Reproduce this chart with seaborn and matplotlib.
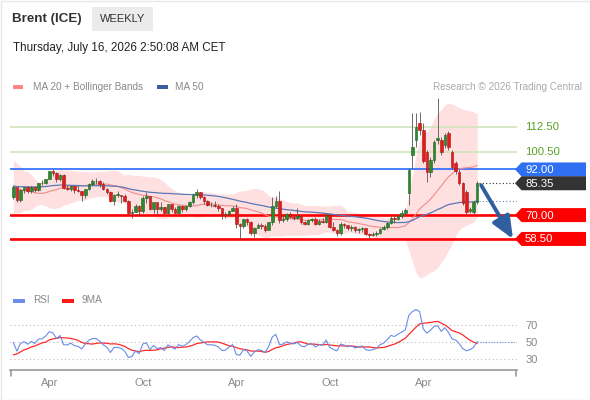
import numpy as np
import pandas as pd
import matplotlib
matplotlib.use("Agg")
import matplotlib.pyplot as plt
import seaborn as sns
from matplotlib.patches import Polygon, Rectangle

# weekly Brent candles, first week 2024-01-26, last week 2026-07-17
closes_before = [90.6, 93.9, 93.3, 95.3, 84.6, 90.9, 92.2, 90.5, 84.9, 81.4,
                 80.6, 80.6, 78.9, 75.8, 76.6, 79.1, 77.0, 78.8, 78.3, 78.6]
closes = [83.5, 77.3, 82.2, 83.5, 81.6, 83.6, 82.1, 85.3, 85.4, 87.5,
          91.2, 90.5, 87.3, 89.5, 83.0, 82.8, 84.0, 82.1, 81.6, 79.6,
          82.6, 85.2, 86.4, 86.5, 85.0, 82.6, 81.1, 76.8, 79.7, 79.7,
          79.0, 76.9, 71.1, 71.6, 74.5, 72.0, 78.1, 79.0, 73.1, 76.1,
          73.1, 73.9, 71.0, 75.2, 72.9, 71.1, 74.5, 72.9, 74.2, 76.5,
          79.8, 81.3, 78.5, 76.8, 74.7, 74.7, 74.4, 73.2, 70.4, 70.6,
          72.2, 73.6, 65.6, 64.8, 68.0, 66.9, 61.3, 63.9, 65.4, 64.8,
          62.8, 66.5, 74.2, 77.0, 67.8, 68.3, 70.4, 69.3, 68.4, 69.7,
          66.6, 65.9, 67.7, 68.1, 65.5, 67.0, 66.7, 70.1, 64.5, 62.7,
          61.3, 65.9, 65.1, 63.6, 64.4, 62.6, 63.2, 63.8, 61.1, 60.5,
          60.9, 61.5, 63.3, 64.1, 66.0, 68.5, 68.0, 69.5, 70.8, 72.3,
          91.8, 103.0, 112.5, 111.0, 96.0, 91.0, 96.5, 105.3, 107.0, 100.5,
          108.6, 102.9, 93.2, 91.5, 85.5, 76.0, 71.5, 73.0, 76.3, 85.35]
highs = [84.0, 83.7, 82.6, 83.7, 84.0, 84.0, 84.2, 85.5, 87.0, 87.6,
         91.3, 92.2, 91.0, 90.0, 89.8, 84.3, 84.2, 84.0, 84.5, 81.7,
         82.8, 85.6, 87.2, 87.9, 86.8, 86.0, 83.0, 81.8, 80.0, 81.6,
         79.8, 80.3, 77.5, 73.0, 75.3, 75.1, 79.1, 81.2, 78.0, 76.5,
         76.5, 76.2, 74.0, 75.3, 75.5, 73.7, 74.9, 74.8, 74.9, 76.9,
         80.7, 82.6, 81.0, 79.3, 77.4, 76.3, 76.9, 75.3, 73.2, 71.7,
         72.5, 74.4, 75.3, 66.0, 68.3, 68.7, 67.2, 64.2, 66.0, 66.3,
         65.7, 66.8, 78.5, 79.0, 81.4, 70.0, 70.8, 71.5, 70.0, 73.5,
         70.2, 67.0, 68.1, 68.8, 69.2, 68.0, 68.6, 71.0, 70.6, 66.6,
         63.2, 66.8, 66.3, 65.4, 65.2, 64.8, 63.6, 64.3, 64.0, 61.5,
         62.0, 62.3, 63.8, 65.4, 66.6, 69.6, 70.0, 70.4, 72.3, 73.4,
         92.8, 119.2, 119.0, 119.5, 114.5, 101.5, 98.0, 106.0, 126.5, 107.5,
         109.5, 110.5, 101.5, 96.0, 92.0, 86.0, 82.0, 74.0, 77.0, 86.5]
lows = [77.8, 76.2, 76.4, 80.8, 80.5, 80.7, 81.3, 81.8, 84.3, 84.8,
        87.2, 89.0, 86.1, 86.4, 82.4, 82.0, 81.4, 80.6, 81.0, 76.8,
        78.2, 82.3, 84.5, 85.0, 83.5, 82.0, 80.2, 76.3, 75.1, 78.8,
        75.9, 76.4, 70.6, 68.7, 71.6, 70.0, 70.9, 75.9, 72.5, 71.0,
        70.7, 72.0, 70.5, 70.4, 71.3, 70.8, 71.0, 71.4, 71.9, 73.8,
        75.4, 78.1, 77.8, 75.3, 74.2, 74.0, 73.7, 72.0, 68.3, 68.4,
        70.0, 71.9, 64.0, 58.4, 64.0, 65.3, 60.2, 59.3, 63.7, 63.4,
        62.0, 63.3, 65.0, 73.5, 66.3, 66.5, 67.3, 68.5, 67.7, 68.3,
        65.8, 65.0, 65.2, 66.7, 65.1, 65.0, 66.0, 66.4, 63.8, 62.1,
        60.1, 60.3, 63.9, 62.9, 62.5, 61.9, 61.5, 62.0, 60.6, 58.9,
        59.8, 59.9, 60.8, 62.7, 63.5, 65.5, 66.4, 67.5, 68.6, 70.2,
        74.8, 92.0, 103.0, 108.5, 95.0, 86.0, 88.5, 95.0, 104.5, 99.0,
        102.5, 101.5, 92.0, 90.0, 84.5, 75.0, 70.5, 70.8, 70.5, 75.5]
# opens differ from previous close only where the spike weeks gapped
gap_opens = {110: 80.5, 111: 99.0, 112: 106.0, 113: 114.4, 114: 111.0, 115: 100.5,
             116: 91.0, 117: 96.5, 118: 106.0, 119: 106.2, 120: 103.8, 121: 109.6,
             122: 100.5, 123: 95.1, 124: 90.8, 125: 85.5, 126: 81.2, 127: 72.0,
             128: 71.5, 129: 76.3}

levels_green = [112.5, 100.5]
level_blue = 92.0
levels_red = [70.0, 58.5]
rsi_levels = [30, 50, 70]
first_week = "2024-01-26"

# ---- indicators
all_close = pd.Series(closes_before + closes, dtype=float)
n_before = len(closes_before)
ma20 = all_close.rolling(20, min_periods=1).mean()
sd20 = all_close.rolling(20, min_periods=1).std(ddof=0)
ma50 = all_close.rolling(50, min_periods=1).mean()
delta = all_close.diff()
gain = delta.clip(lower=0).ewm(alpha=1 / 14, adjust=True).mean()
loss = (-delta.clip(upper=0)).ewm(alpha=1 / 14, adjust=True).mean()
rsi = 100 - 100 / (1 + gain / loss)
rsi_ma = rsi.rolling(9, min_periods=1).mean()

n = len(closes)
df = pd.DataFrame({
    "week": np.arange(n),
    "date": pd.date_range(first_week, periods=n, freq="W-FRI"),
    "close": closes, "high": highs, "low": lows,
    "open": all_close.shift(1).iloc[n_before:].values,
    "ma20": ma20.iloc[n_before:].values,
    "upper": (ma20 + 2 * sd20).iloc[n_before:].values,
    "lower": (ma20 - 2 * sd20).iloc[n_before:].values,
    "ma50": ma50.iloc[n_before:].values,
    "rsi": rsi.iloc[n_before:].values,
    "rsi_ma": rsi_ma.iloc[n_before:].values,
})
for k, v in gap_opens.items():
    df.loc[k, "open"] = v

# ---- figure
sns.set_theme(style="white")
plt.rcParams["font.family"] = ["Liberation Sans", "DejaVu Sans"]
W, H = 590, 400
fig = plt.figure(figsize=(W / 100, H / 100), dpi=100)


def px_axes(x0, y0, x1, y1):
    return fig.add_axes([x0 / W, 1 - y1 / H, (x1 - x0) / W, (y1 - y0) / H])


x0_px, step_px = 13.3, 3.596
xlim = ((10 - x0_px) / step_px, (517 - x0_px) / step_px)

ax = px_axes(10, 95, 517, 285)
ax.set_xlim(*xlim)
ax.set_ylim(36.3, 127.9)
ax.axis("off")

ax.fill_between(df["week"], df["lower"], df["upper"], color="#ffe0e0", lw=0, zorder=1)
for lv in levels_green:
    ax.axhline(lv, color="#cde3b8", lw=1.1, zorder=2)
ax.axhline(level_blue, color="#1f62ff", lw=1.15, zorder=2.5)
for lv in levels_red:
    ax.axhline(lv, color="#ff0000", lw=1.9, zorder=2)
sns.lineplot(data=df, x="week", y="ma20", ax=ax, color="#f28c8c", lw=0.8, zorder=3)
sns.lineplot(data=df, x="week", y="ma50", ax=ax, color="#5a78b5", lw=0.9, zorder=3)
ax.axis("off")

up = df["close"] >= df["open"]
ax.vlines(df["week"], df["low"], df["high"], color="#555555", lw=0.6, zorder=4)
body_lo = np.minimum(df["open"], df["close"])
body_h = np.maximum((df["close"] - df["open"]).abs(), 0.25)
ax.bar(df["week"], body_h, bottom=body_lo, width=0.72,
       color=np.where(up, "#2b8a2b", "#e21b1b"),
       edgecolor=np.where(up, "#1b5e1b", "#a51212"), lw=0.4, zorder=5)

last = df.iloc[-1]
ax.hlines(last["close"], n - 0.4, xlim[1], colors="#333333", linestyles=(0, (1, 2)), lw=0.8, zorder=3)
ax.hlines(last["ma50"], n - 0.4, xlim[1], colors="#6f86b8", linestyles=(0, (1, 2)), lw=0.8, zorder=3)

# ---- RSI panel
ax2 = px_axes(10, 305, 517, 370)
ax2.set_xlim(*xlim)
ax2.set_ylim(17.06, 93.5)
for lv in rsi_levels:
    ax2.axhline(lv, color="#bbbbbb", lw=0.8, linestyle=(0, (1, 2.5)), zorder=1)
sns.lineplot(data=df, x="week", y="rsi", ax=ax2, color="#6b8ce8", lw=0.8, zorder=3)
sns.lineplot(data=df, x="week", y="rsi_ma", ax=ax2, color="#ff2a2a", lw=0.9, zorder=2)
ax2.hlines(last["rsi"], n - 1, (515 - x0_px) / step_px, colors="#6b8ce8",
           linestyles=(0, (1, 1.5)), lw=0.8)
for s in ["top", "left", "right"]:
    ax2.spines[s].set_visible(False)
ax2.spines["bottom"].set_color("#9a9a9a")
ax2.spines["bottom"].set_linewidth(1.2)
ax2.set_xlabel("")
ax2.set_ylabel("")
ax2.yaxis.tick_right()
ax2.set_yticks(rsi_levels)
tick_weeks = df[(df["date"].dt.month.isin([4, 10])) & (df["date"].dt.day <= 7)]
ax2.set_xticks(tick_weeks["week"])
ax2.set_xticklabels(tick_weeks["date"].dt.strftime("%b"))
ax2.tick_params(axis="x", length=0, pad=6, labelsize=8, labelcolor="#888888")
ax2.tick_params(axis="y", length=0, pad=6, labelsize=8, labelcolor="#888888")
ax2.patch.set_alpha(0)

# ---- overlay in pixel coordinates
ov = fig.add_axes([0, 0, 1, 1], zorder=10)
ov.set_xlim(0, W)
ov.set_ylim(H, 0)
ov.axis("off")
ov.patch.set_alpha(0)


def price_px(v):
    return H - ax.transData.transform((0, v))[1]


def week_px(i):
    return ax.transData.transform((i, 0))[0]


ov.add_patch(Rectangle((0.5, 0.5), W - 1, H - 1, fill=False, ec="#e8e8e8", lw=1))
ov.text(12, 19, "Brent (ICE)", fontsize=9.6, fontweight="bold", color="#333333", va="center")
ov.add_patch(Rectangle((92, 7), 61, 24, color="#ebebeb", lw=0))
ov.text(122.5, 19.5, "WEEKLY", fontsize=8, color="#333333", va="center", ha="center")
ov.text(13, 48, "Thursday, July 16, 2026 2:50:08 AM CET", fontsize=8.4, color="#222222", va="center")

ov.add_patch(Rectangle((13, 84.5), 10, 4.5, color="#ff8585", lw=0))
ov.text(33, 86.5, "MA 20 + Bollinger Bands", fontsize=7.2, color="#888888", va="center")
ov.add_patch(Rectangle((157, 84.5), 11, 4.5, color="#3a5f9e", lw=0))
ov.text(175, 86.5, "MA 50", fontsize=7.2, color="#888888", va="center")
ov.text(582, 86.5, "Research \u00a9 2026 Trading Central", fontsize=7.2, color="#aaaaaa",
        va="center", ha="right")

ov.add_patch(Rectangle((13, 298.5), 12, 4, color="#6b8ce8", lw=0))
ov.text(33, 300, "RSI", fontsize=7.2, color="#888888", va="center")
ov.add_patch(Rectangle((62, 298.5), 12, 4, color="#ff1a1a", lw=0))
ov.text(82, 300, "9MA", fontsize=7.2, color="#888888", va="center")

# axis bracket end ticks
ov.plot([11, 11], [370, 376], color="#9a9a9a", lw=1.2)
ov.plot([516, 516], [370, 376], color="#9a9a9a", lw=1.2)


def tag(value, color, text):
    y = price_px(value)
    ov.add_patch(Polygon([(515, y), (521.5, y - 7), (586, y - 7), (586, y + 7), (521.5, y + 7)],
                         closed=True, color=color, lw=0))
    ov.text(525, y + 0.5, text, color="white", fontsize=8.2, va="center", ha="left")


for lv in levels_green:
    ov.text(525, price_px(lv), f"{lv:.2f}", color="#5a9e2a", fontsize=8.2, va="center")
tag(level_blue, "#2f6ff2", f"{level_blue:.2f}")
tag(last["close"], "#333333", f"{last['close']:.2f}")
for lv in levels_red:
    tag(lv, "#ff0000", f"{lv:.2f}")

ov.annotate("", xy=(513, price_px(levels_red[1])),
            xytext=(week_px(n - 1) + 4, price_px(last["close"]) + 2),
            arrowprops=dict(arrowstyle="-|>,head_length=0.75,head_width=0.32",
                            mutation_scale=18, lw=2.8, color="#2f5f9e",
                            shrinkA=0, shrinkB=0))

fig.savefig("out.png", dpi=100)
